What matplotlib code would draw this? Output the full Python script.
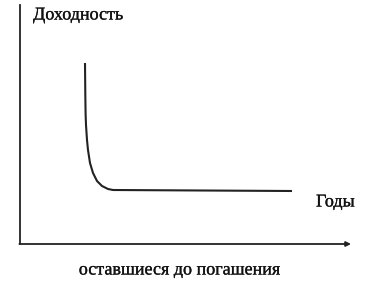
import matplotlib
matplotlib.use("Agg")
from matplotlib import pyplot as plt
import matplotlib.patheffects as pe

# curve (arbitrary units)
years = [65, 65.3, 65.6, 66, 67, 68, 70, 73, 77, 82, 88, 93, 272]
yields = [181, 150, 130, 119, 104, 94, 81, 71, 63, 58, 55, 54, 53]

plt.rcParams['font.family'] = ['Liberation Serif', 'DejaVu Serif']

fig = plt.figure(figsize=(3.75, 2.85), dpi=100)
ax = fig.add_axes([20 / 375, (285 - 244) / 285, 330 / 375, 239 / 285])
ax.set_xlim(0, 330)
ax.set_ylim(0, 239)

ax.plot(years, yields, color='#222222', lw=1.5, solid_capstyle='butt')

for s in ['top', 'right', 'bottom', 'left']:
    ax.spines[s].set_visible(False)
ax.set_xticks([])
ax.set_yticks([])

# axes drawn by hand: vertical line and arrowed horizontal line
ax.plot([0, 0], [0, 239], color='#222222', lw=1.3, clip_on=False)
ax.annotate('', xy=(331, 0), xytext=(-0.6, 0),
            arrowprops=dict(arrowstyle='-|>', color='#222222', lw=1.3,
                            mutation_scale=7, shrinkA=0, shrinkB=0),
            annotation_clip=False)

bold = [pe.withStroke(linewidth=0.2, foreground='#111111')]
ax.text(13, 229, 'Доходность', fontsize=13, color='#111111', va='center',
        ha='left', path_effects=bold)
ax.text(296, 42, 'Годы', fontsize=13, color='#111111', va='center',
        ha='left', path_effects=bold)
fig.text(179 / 375, 1 - 270 / 285, 'оставшиеся до погашения', fontsize=13,
         color='#111111', va='center', ha='center', path_effects=bold)

fig.savefig('out.png', dpi=100)
